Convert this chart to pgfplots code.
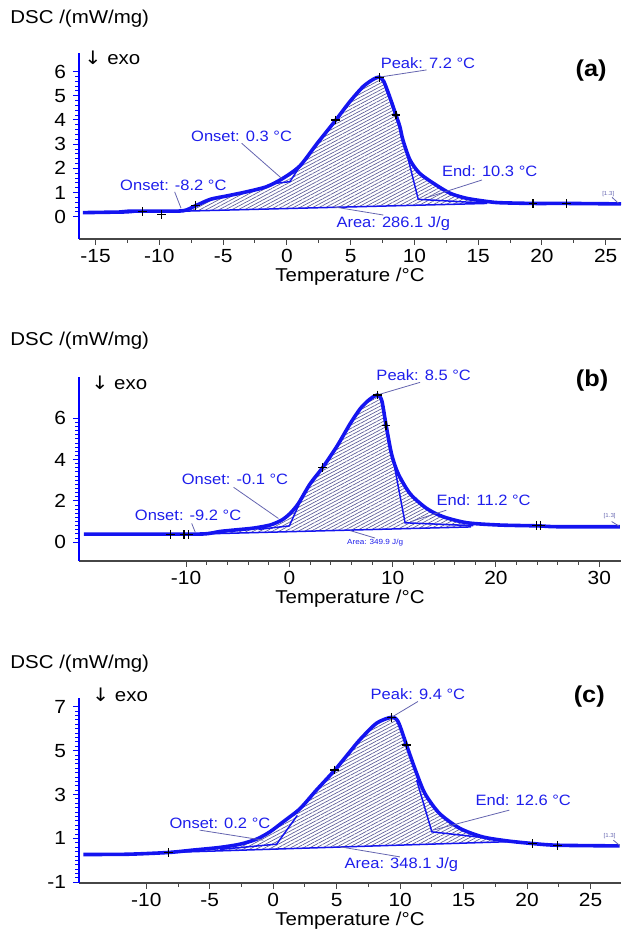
\documentclass[border=0pt]{standalone}
\usepackage{fontspec}
\setmainfont{Liberation Sans}[FakeStretch=1.1]
\newfontfamily\dejavu{DejaVu Sans}[FakeStretch=1.1]
\usepackage{pgfplots}
\pgfplotsset{compat=1.18}
\usetikzlibrary{patterns.meta}
\definecolor{curveblue}{RGB}{20,20,240}
\definecolor{annoblue}{RGB}{30,30,235}
\definecolor{leadc}{RGB}{100,100,175}
\definecolor{hatchc}{RGB}{90,90,150}
\definecolor{xaxc}{RGB}{70,70,70}
\pgfplotsset{
 dsc/.style={
  scale only axis, width=271pt, clip=false,
  axis x line=bottom, axis y line=left,
  x axis line style={-, draw=xaxc, line width=0.6pt},
  y axis line style={-, draw=blue, line width=1.2pt},
  tick align=outside,
  xtick style={draw=xaxc, line width=0.5pt},
  ytick style={draw=blue, line width=0.5pt},
  major tick length=3pt, minor tick length=1.8pt,
  tick label style={font=\fontsize{9.5}{11}\selectfont},
  xticklabel style={yshift=1.5pt},
  /pgf/number format/assume math mode=true,
  xlabel={Temperature /°C},
  xlabel style={font=\fontsize{9.3}{11}\selectfont, at={(axis description cs:0.5,0)}, anchor=center, yshift=-19pt},
 },
 curve/.style={curveblue, line width=1.8pt, smooth, tension=0.45, no marks},
 tline/.style={curveblue, line width=0.75pt, no marks},
 leader/.style={leadc, line width=0.4pt, no marks},
 hatch/.style={draw=none, pattern={Lines[angle=28, distance=1.5pt, line width=0.33pt]}, pattern color=hatchc},
 pmark/.style={only marks, mark=+, mark size=2.2pt, black, line width=0.6pt},
}
\tikzset{
 anno/.style={text=annoblue, font=\fontsize{7.5}{9}\selectfont, inner sep=0pt},
 panel/.style={font=\fontsize{11.5}{13}\selectfont\bfseries, inner sep=0pt},
 exo/.style={font=\fontsize{9.3}{11}\selectfont, inner sep=0pt, anchor=west},
 tiny/.style={text=leadc, font=\fontsize{2.8}{3}\selectfont, inner sep=0pt},
}
\begin{document}
\begin{tikzpicture}
\useasboundingbox (0,0) rectangle (310.5pt,465.5pt);
% ---------------- (a)
\begin{axis}[dsc, at={(39.5pt,346pt)}, anchor=south west, height=93pt,
  xmin=-16.3, xmax=26.2, ymin=-0.92, ymax=6.77,
  xtick={-15,-10,...,25}, minor x tick num=1,
  ytick={0,...,6}, minor y tick num=4]
\addplot[hatch] coordinates {(-8.1,0.25) (-7.14,0.46) (-6.0,0.72) (-4.7,0.86) (-3.16,1.03) (-1.6,1.24) (-0.3,1.59) (1.02,2.10) (2.33,3.0) (3.84,4.0) (4.94,4.76) (5.98,5.38) (6.77,5.68) (7.24,5.77) (7.6,5.59) (8.1,4.9) (8.55,4.21) (8.86,3.72) (9.1,3.17) (9.65,2.35) (10.4,1.80) (11.5,1.38) (12.8,0.97) (14.1,0.76) (15.7,0.60) (15.7,0.55) (-8.1,0.23)};
\addplot[tline] coordinates {(-8.1,0.23) (15.7,0.55)};
\addplot[tline] coordinates {(-1.2,1.36) (0.24,1.45) (1.1,2.15)};
\addplot[tline] coordinates {(9.4,2.62) (10.3,0.72) (15.7,0.56)};
\addplot[curve] coordinates {(-16.0,0.17) (-12.6,0.20) (-12.4,0.23) (-10.0,0.23) (-8.1,0.25) (-7.14,0.46) (-6.0,0.72) (-4.7,0.86) (-3.16,1.03) (-1.6,1.24) (-0.3,1.59) (1.02,2.10) (2.33,3.0) (3.84,4.0) (4.94,4.76) (5.98,5.38) (6.77,5.68) (7.24,5.77) (7.6,5.59) (8.1,4.9) (8.55,4.21) (8.86,3.72) (9.1,3.17) (9.65,2.35) (10.4,1.80) (11.5,1.38) (12.8,0.97) (14.1,0.76) (15.7,0.63) (16.7,0.58) (19.3,0.55) (21.9,0.55) (26.2,0.53)};
\addplot[pmark] coordinates {(-11.3,0.21) (-9.8,0.08) (-7.14,0.46) (3.84,4.0) (7.24,5.77) (8.55,4.21) (19.3,0.55) (21.9,0.55)};
\addplot[leader] coordinates {(7.24,5.77) (10.96,6.07)};
\addplot[leader] coordinates {(-3.55,3.04) (-0.42,1.59)};
\addplot[leader] coordinates {(-8.8,1.03) (-8.3,0.35)};
\addplot[leader] coordinates {(15.3,1.52) (10.8,0.76)};
\addplot[leader] coordinates {(3.65,0.41) (7.57,0.07)};
\addplot[leader] coordinates {(25.5,0.80) (26.0,0.56)};
\node[anno] at (axis cs:11.06,6.37) {Peak: 7.2 °C};
\node[anno] at (axis cs:-3.55,3.31) {Onset: 0.3 °C};
\node[anno] at (axis cs:-8.9,1.31) {Onset: -8.2 °C};
\node[anno] at (axis cs:15.9,1.90) {End: 10.3 °C};
\node[anno] at (axis cs:8.34,-0.30) {Area: 286.1 J/g};
\node[tiny] at (axis cs:25.2,0.94) {[1.3]};
\node[panel] at (axis cs:23.86,6.04) {(a)};
\node[exo] at (axis cs:-15.9,6.55) {{\dejavu ↓} exo};
\end{axis}
% ---------------- (b)
\begin{axis}[dsc, at={(39.5pt,185pt)}, anchor=south west, height=92pt,
  xmin=-20.36, xmax=32.1, ymin=-0.91, ymax=8.0,
  xtick={-10,0,10,20,30}, minor x tick num=4,
  ytick={0,2,4,6}, minor y tick num=9]
\addplot[hatch] coordinates {(-8.3,0.40) (-6.7,0.52) (-5.1,0.60) (-3.5,0.68) (-1.87,0.83) (-0.74,1.07) (0.07,1.39) (0.87,1.87) (2.0,2.82) (3.2,3.6) (4.6,4.64) (5.9,5.75) (6.84,6.45) (7.5,6.8) (8.0,7.0) (8.52,7.13) (8.94,6.87) (9.36,5.67) (9.9,4.25) (10.55,3.3) (11.7,2.34) (13.3,1.63) (14.9,1.23) (17.2,0.94) (17.6,0.88) (17.6,0.74)};
\addplot[tline] coordinates {(-8.3,0.40) (17.6,0.74)};
\addplot[tline] coordinates {(-3.0,0.62) (0.0,0.79) (0.95,1.85)};
\addplot[tline] coordinates {(10.2,3.6) (11.2,0.94) (17.8,0.80)};
\addplot[curve] coordinates {(-19.9,0.39) (-12.5,0.39) (-8.3,0.40) (-6.7,0.52) (-5.1,0.60) (-3.5,0.68) (-1.87,0.83) (-0.74,1.07) (0.07,1.39) (0.87,1.87) (2.0,2.82) (3.2,3.6) (4.6,4.64) (5.9,5.75) (6.84,6.45) (7.5,6.8) (8.0,7.0) (8.52,7.13) (8.94,6.87) (9.36,5.67) (9.9,4.25) (10.55,3.3) (11.7,2.34) (13.3,1.63) (14.9,1.23) (17.2,0.94) (20.4,0.83) (24.1,0.79) (25.9,0.75) (32.0,0.75)};
\addplot[pmark] coordinates {(-11.5,0.39) (-10.2,0.36) (-9.8,0.36) (3.2,3.6) (8.52,7.13) (9.36,5.67) (23.9,0.79) (24.3,0.79)};
\addplot[leader] coordinates {(8.52,7.13) (12.65,7.74)};
\addplot[leader] coordinates {(-5.4,2.66) (-1.06,1.15)};
\addplot[leader] coordinates {(-9.45,0.91) (-9.1,0.47)};
\addplot[leader] coordinates {(15.2,1.55) (11.7,0.99)};
\addplot[leader] coordinates {(5.9,0.56) (8.3,0.2)};
\addplot[leader] coordinates {(31.2,1.0) (31.9,0.78)};
\node[anno] at (axis cs:13.0,8.09) {Peak: 8.5 °C};
\node[anno] at (axis cs:-5.26,3.06) {Onset: -0.1 °C};
\node[anno] at (axis cs:-9.8,1.31) {Onset: -9.2 °C};
\node[anno] at (axis cs:18.8,2.06) {End: 11.2 °C};
\node[anno, font=\fontsize{3.7}{4}\selectfont] at (axis cs:8.3,0.0) {Area: 349.9 J/g};
\node[tiny] at (axis cs:31.0,1.26) {[1.3]};
\node[panel] at (axis cs:29.3,7.82) {(b)};
\node[exo] at (axis cs:-19.2,7.74) {{\dejavu ↓} exo};
\end{axis}
% ---------------- (c)
\begin{axis}[dsc, at={(39.5pt,24pt)}, anchor=south west, height=92.5pt,
  xmin=-15.3, xmax=27.4, ymin=-1.03, ymax=7.4,
  xtick={-10,-5,...,25}, minor x tick num=1,
  ytick={-1,1,3,5,7}, minor y tick num=9]
\addplot[hatch] coordinates {(-8.27,0.36) (-6.3,0.47) (-4.2,0.59) (-2.6,0.74) (-1.3,0.97) (-0.26,1.30) (0.79,1.76) (2.1,2.35) (3.4,3.2) (4.86,4.12) (6.04,4.95) (6.83,5.5) (8.14,6.25) (9.32,6.52) (9.84,6.32) (10.5,5.26) (11.2,4.12) (11.95,3.05) (13.1,2.14) (14.7,1.46) (16.5,1.07) (18.4,0.89) (18.4,0.85)};
\addplot[tline] coordinates {(-8.27,0.36) (18.4,0.85)};
\addplot[tline] coordinates {(-4.2,0.50) (0.27,0.74) (1.9,2.05)};
\addplot[tline] coordinates {(11.3,3.66) (12.5,1.30) (18.4,0.92)};
\addplot[curve] coordinates {(-14.95,0.27) (-11.5,0.28) (-8.27,0.36) (-6.3,0.47) (-4.2,0.59) (-2.6,0.74) (-1.3,0.97) (-0.26,1.30) (0.79,1.76) (2.1,2.35) (3.4,3.2) (4.86,4.12) (6.04,4.95) (6.83,5.5) (8.14,6.25) (9.32,6.52) (9.84,6.32) (10.5,5.26) (11.2,4.12) (11.95,3.05) (13.1,2.14) (14.7,1.46) (16.5,1.07) (18.4,0.89) (20.4,0.77) (22.4,0.69) (27.3,0.66)};
\addplot[pmark] coordinates {(-8.27,0.36) (4.86,4.12) (9.32,6.52) (10.5,5.26) (20.4,0.77) (22.4,0.69)};
\addplot[leader] coordinates {(9.32,6.52) (11.4,7.24)};
\addplot[leader] coordinates {(-5.8,1.38) (-0.78,0.92)};
\addplot[leader] coordinates {(18.6,2.29) (12.6,1.38)};
\addplot[leader] coordinates {(5.25,0.62) (9.98,0.16)};
\addplot[leader] coordinates {(26.8,0.92) (27.3,0.68)};
\node[anno] at (axis cs:11.4,7.59) {Peak: 9.4 °C};
\node[anno] at (axis cs:-4.2,1.71) {Onset: 0.2 °C};
\node[anno] at (axis cs:19.7,2.75) {End: 12.6 °C};
\node[anno] at (axis cs:10.1,-0.17) {Area: 348.1 J/g};
\node[tiny] at (axis cs:26.5,1.12) {[1.3]};
\node[panel] at (axis cs:24.9,7.47) {(c)};
\node[exo] at (axis cs:-14.3,7.54) {{\dejavu ↓} exo};
\end{axis}
\node[anchor=west, inner sep=0pt, font=\fontsize{9.3}{11}\selectfont] at (5pt,456pt) {DSC /(mW/mg)};
\node[anchor=west, inner sep=0pt, font=\fontsize{9.3}{11}\selectfont] at (5pt,295.1pt) {DSC /(mW/mg)};
\node[anchor=west, inner sep=0pt, font=\fontsize{9.3}{11}\selectfont] at (5pt,133.8pt) {DSC /(mW/mg)};
\end{tikzpicture}
\end{document}
